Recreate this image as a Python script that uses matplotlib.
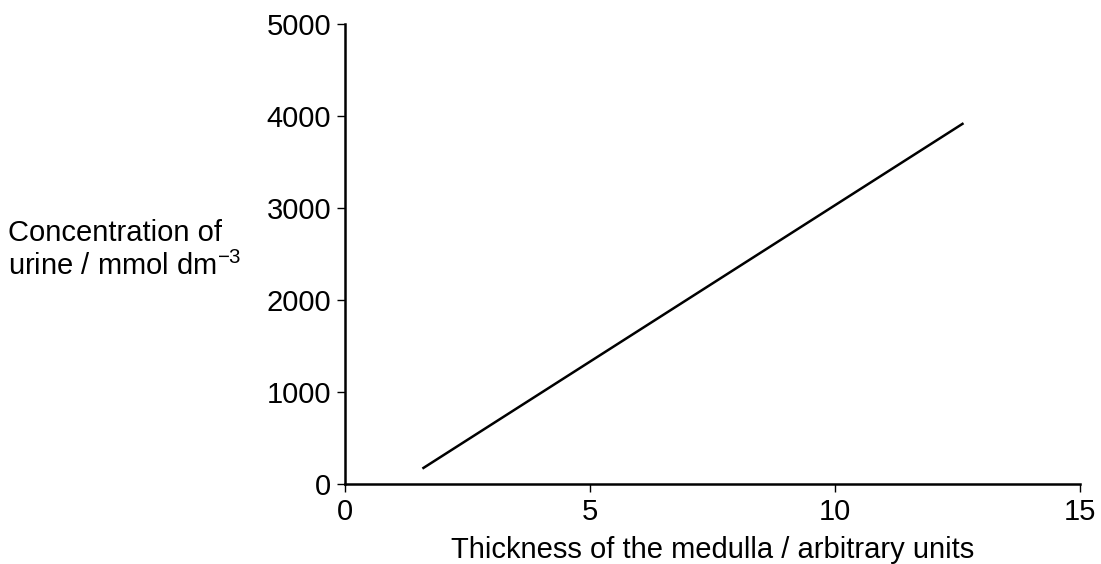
import matplotlib.pyplot as plt

# values
thickness = [1.6, 12.6]
concentration = [175, 3915]
x_ticks = [0, 5, 10, 15]
y_ticks = [0, 1000, 2000, 3000, 4000, 5000]

plt.rcParams['font.family'] = ['Liberation Sans', 'DejaVu Sans']
plt.rcParams['mathtext.default'] = 'regular'

fig = plt.figure(figsize=(11.01, 5.64), dpi=100)
ax = fig.add_axes([0.3134, 0.1418, 0.981 - 0.3134, 0.9574 - 0.1418])

ax.plot(thickness, concentration, color='black', linewidth=1.8)

ax.set_xlim(0, 15)
ax.set_ylim(0, 5000)
ax.set_xticks(x_ticks)
ax.set_yticks(y_ticks)
ax.tick_params(labelsize=21, width=1.0, length=6, direction='out', pad=4, colors='black')

for side in ('top', 'right'):
    ax.spines[side].set_visible(False)
for side in ('left', 'bottom'):
    ax.spines[side].set_linewidth(1.8)

ax.set_xlabel('Thickness of the medulla / arbitrary units', fontsize=21, labelpad=7)
fig.text(0.007, 0.557, 'Concentration of\nurine / mmol dm$^{\u22123}$', fontsize=21,
         ha='left', va='center', linespacing=1.2)

fig.savefig('out.png', dpi=100)
